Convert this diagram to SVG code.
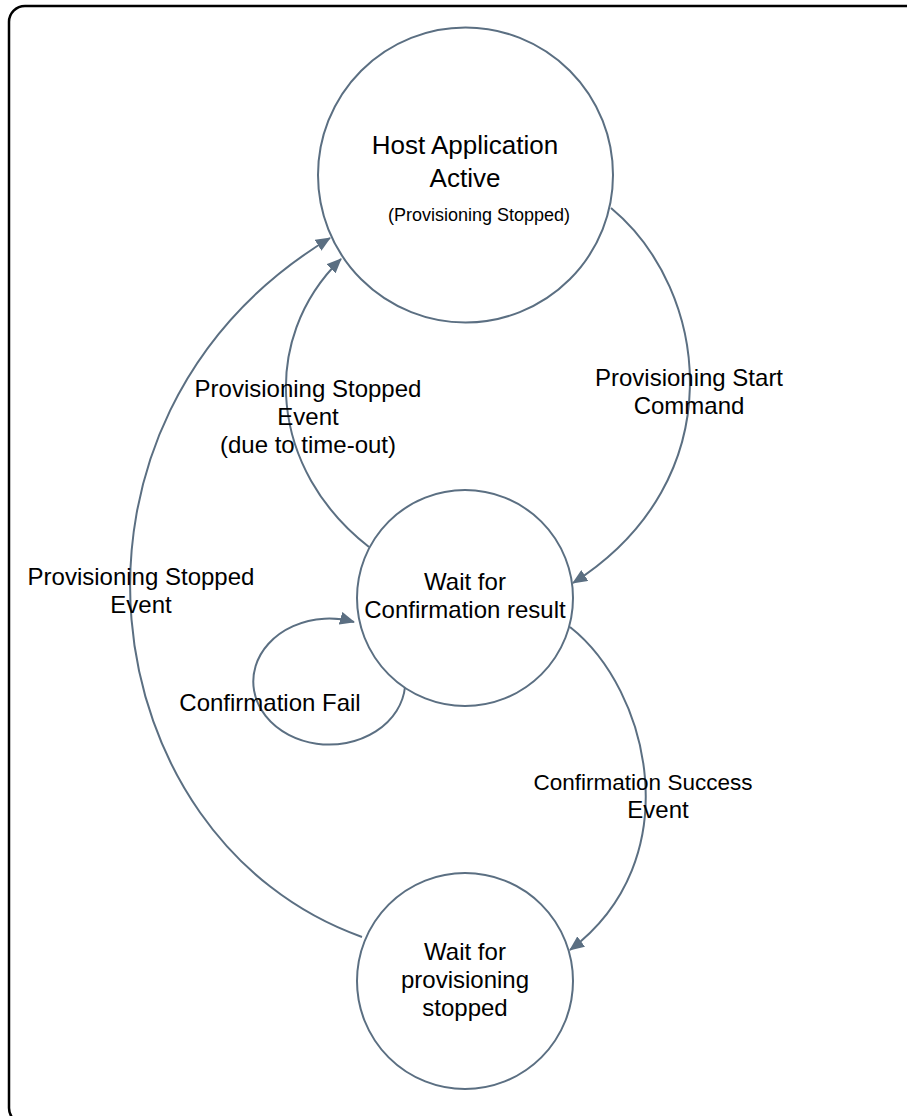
<svg xmlns="http://www.w3.org/2000/svg" width="907" height="1116" viewBox="0 0 907 1116">
<style>
.node{fill:#ffffff;stroke:#5b6f82;stroke-width:2}
.edge{fill:none;stroke:#5b6f82;stroke-width:2}
text{font-family:"Liberation Sans",Arial,sans-serif;fill:#000;text-anchor:middle}
.t{font-size:24px}
.big{font-size:26px}
.sm{font-size:18px}
</style>
<defs>
<marker id="arr" viewBox="0 0 15 13" refX="14" refY="6.5" markerWidth="15" markerHeight="13" markerUnits="userSpaceOnUse" orient="auto">
<path d="M0,0 L15,6.5 L0,13 Z" fill="#5b6f82"/>
</marker>
</defs>
<rect x="9" y="6" width="920" height="1118" rx="16" fill="#ffffff" stroke="#000" stroke-width="2.5"/>
<g id="connectors">
<path class="edge" d="M611,208 C710,290 735,480 573,583" marker-end="url(#arr)"/>
<path class="edge" d="M369,547 C270,470 258,340 341,259" marker-end="url(#arr)"/>
<path class="edge" d="M362,937 C90,840 30,420 330,238" marker-end="url(#arr)"/>
<path class="edge" d="M570,627 C650,690 690,860 570,950" marker-end="url(#arr)"/>
<path class="edge" d="M405,687 A76,63 0 1 1 354,622" marker-end="url(#arr)"/>
</g>
<g id="host">
<circle class="node" cx="465.5" cy="175" r="147.5"/>
<text class="big" x="465" y="154">Host Application</text>
<text class="big" x="465" y="187">Active</text>
<text class="sm" x="479" y="221">(Provisioning Stopped)</text>
</g>
<g id="waitConfirm">
<circle class="node" cx="465" cy="598" r="108"/>
<text class="t" x="465" y="590">Wait for</text>
<text class="t" x="465" y="618">Confirmation result</text>
</g>
<g id="waitProv">
<circle class="node" cx="465" cy="981" r="108"/>
<text class="t" x="465" y="960">Wait for</text>
<text class="t" x="465" y="988">provisioning</text>
<text class="t" x="465" y="1016">stopped</text>
</g>
<g id="labels">
<text class="t" x="689" y="386">Provisioning Start</text>
<text class="t" x="689" y="414">Command</text>
<text class="t" x="308" y="397">Provisioning Stopped</text>
<text class="t" x="308" y="425">Event</text>
<text class="t" x="308" y="453">(due to time-out)</text>
<text class="t" x="141" y="585">Provisioning Stopped</text>
<text class="t" x="141" y="613">Event</text>
<text class="t" x="270" y="711">Confirmation Fail</text>
<text class="t" x="643" y="790" style="font-size:22.5px">Confirmation Success</text>
<text class="t" x="658" y="818">Event</text>
</g>
</svg>
